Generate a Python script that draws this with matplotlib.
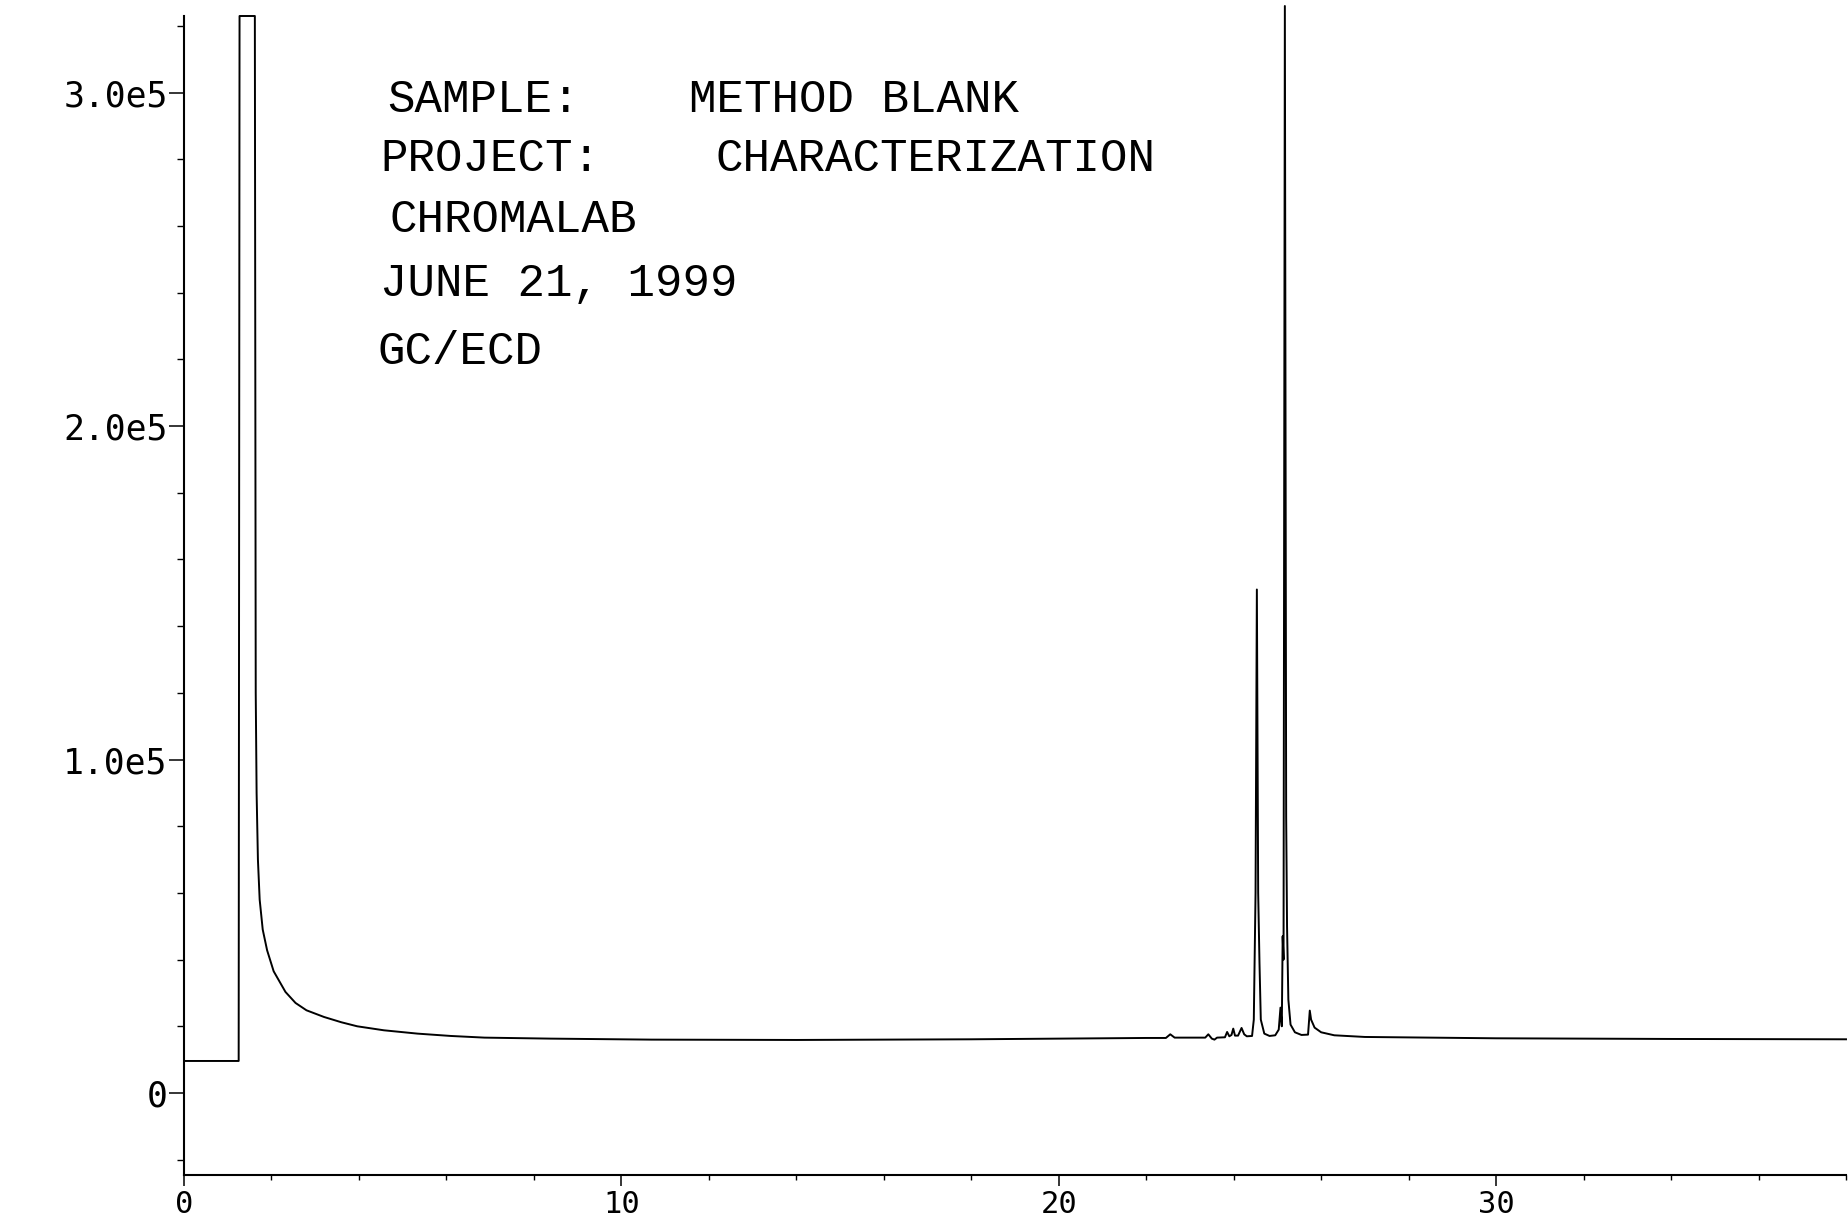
import matplotlib
matplotlib.use("Agg")
import matplotlib.pyplot as plt
from matplotlib.ticker import MultipleLocator, FixedLocator, FixedFormatter

# ---------------- data ----------------
# retention time (min)
time_min = [
    0.00, 1.25, 1.27, 1.62, 1.64, 1.66, 1.69, 1.73, 1.80, 1.90, 2.05, 2.32,
    2.55, 2.80, 3.20, 3.60, 3.96, 4.57, 5.34, 6.10, 6.87, 8.39, 10.69, 14.0,
    18.0, 22.0,
    22.45, 22.55, 22.65, 23.35, 23.42, 23.50, 23.56, 23.62, 23.80, 23.85,
    23.90, 23.95, 23.99, 24.03, 24.10, 24.18, 24.24, 24.30, 24.42, 24.46,
    24.50, 24.53, 24.56, 24.59, 24.62, 24.70, 24.82, 24.95, 25.03, 25.07,
    25.10, 25.12, 25.14, 25.17, 25.20, 25.22, 25.25, 25.30, 25.40, 25.55,
    25.70, 25.74, 25.77, 25.85, 26.0, 26.3, 27.0, 30.0, 34.0, 38.0,
]
# detector response
signal = [
    9600, 9600, 323000, 323000, 120000, 90000, 70000, 58000, 49000, 42800,
    36500, 30300, 27000, 24800, 22800, 21200, 20000, 18800, 17800, 17100,
    16600, 16300, 16000, 15900, 16100, 16500,
    16500, 17600, 16600, 16600, 17600, 16300, 16000, 16600, 16700, 18300,
    17000, 17400, 19300, 17200, 17200, 19500, 17600, 17000, 17100, 22000,
    60000, 151000, 60000, 39000, 22000, 17800, 17100, 17300, 19000, 25600,
    20000, 47000, 40000, 326000, 83000, 50000, 28000, 20500, 18200, 17400,
    17500, 24700, 22000, 19600, 18200, 17300, 16800, 16400, 16200, 16100,
]

x_major = [0, 10, 20, 30]
x_labels = ["0", "10", "20", "30"]
y_major = [0, 100000, 200000, 300000]
y_labels = ["0", "1.0e5", "2.0e5", "3.0e5"]

info_lines = [
    ("SAMPLE:", "METHOD BLANK"),
    ("PROJECT:", "CHARACTERIZATION"),
    ("CHROMALAB", ""),
    ("JUNE 21, 1999", ""),
    ("GC/ECD", ""),
]

# ---------------- figure ----------------
W, H = 1848, 1222
fig = plt.figure(figsize=(W / 100, H / 100), dpi=100)
fig.patch.set_facecolor("white")

ax_left, ax_right, ax_top, ax_bottom = 184, 1846, 16, 1175
ax = fig.add_axes([ax_left / W, 1 - ax_bottom / H,
                   (ax_right - ax_left) / W, (ax_bottom - ax_top) / H])

ax.plot(time_min, signal, color="black", lw=1.4, clip_on=False,
        solid_joinstyle="round")

ax.set_xlim(0, 38)
ax.set_ylim(-24600, 323000)

for s in ("top", "right"):
    ax.spines[s].set_visible(False)
for s in ("left", "bottom"):
    ax.spines[s].set_linewidth(1.5)
    ax.spines[s].set_color("black")

ax.xaxis.set_major_locator(FixedLocator(x_major))
ax.xaxis.set_major_formatter(FixedFormatter(x_labels))
ax.xaxis.set_minor_locator(MultipleLocator(2))
ax.yaxis.set_major_locator(FixedLocator(y_major))
ax.yaxis.set_major_formatter(FixedFormatter(y_labels))
ax.yaxis.set_minor_locator(MultipleLocator(20000))

tick_font = "DejaVu Sans Mono"
ax.tick_params(axis="x", which="major", direction="out", length=8, width=1.1,
               pad=3, labelsize=22)
ax.tick_params(axis="x", which="minor", direction="out", length=3.6, width=1.0)
ax.tick_params(axis="y", which="major", direction="out", length=10.8, width=1.1,
               pad=1, labelsize=25)
ax.tick_params(axis="y", which="minor", direction="out", length=5, width=1.0)
for lab in ax.get_xticklabels() + ax.get_yticklabels():
    lab.set_fontfamily(tick_font)

# ---------------- header text ----------------
txt_font = "Liberation Mono"
txt_size = 33
row_y = [100, 159, 220, 284, 352]
first_x = [387, 380, 389, 380, 377]
second_x = [689, 715, None, None, None]
for (a, b), yy, x1, x2 in zip(info_lines, row_y, first_x, second_x):
    fig.text(x1 / W, 1 - yy / H, a, family=txt_font, fontsize=txt_size,
             va="center", ha="left", color="black")
    if b:
        fig.text(x2 / W, 1 - yy / H, b, family=txt_font, fontsize=txt_size,
                 va="center", ha="left", color="black")

fig.savefig("out.png", dpi=100, facecolor="white")
